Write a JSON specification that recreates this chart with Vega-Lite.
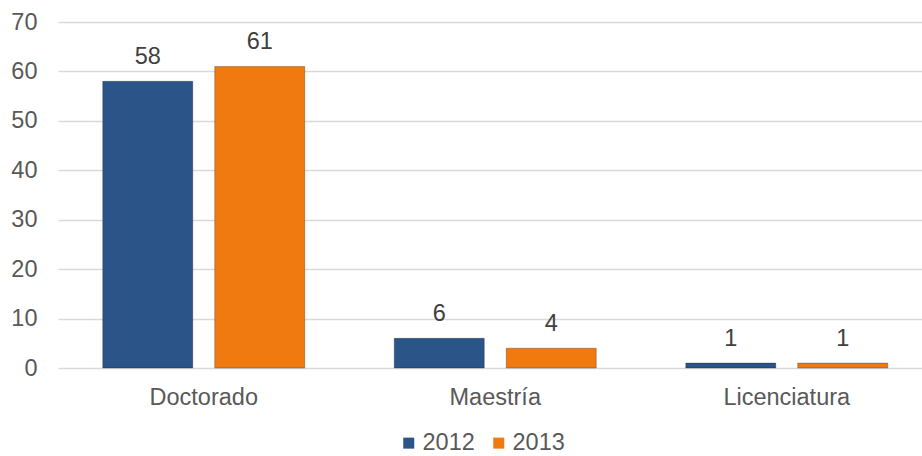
{
  "$schema": "https://vega.github.io/schema/vega-lite/v6.json",
  "width": 864,
  "height": 346,
  "autosize": {"type": "none"},
  "padding": {"left": 58, "top": 22, "right": 0, "bottom": 88},
  "background": "white",
  "config": {
    "view": {"stroke": null},
    "font": "Liberation Sans",
    "text": {"font": "Liberation Sans"}
  },
  "data": {
    "values": [
      {"nivel": "Doctorado", "year": "2012", "value": 58},
      {"nivel": "Doctorado", "year": "2013", "value": 61},
      {"nivel": "Maestría", "year": "2012", "value": 6},
      {"nivel": "Maestría", "year": "2013", "value": 4},
      {"nivel": "Licenciatura", "year": "2012", "value": 1},
      {"nivel": "Licenciatura", "year": "2013", "value": 1}
    ]
  },
  "encoding": {
    "x": {
      "field": "nivel", "type": "nominal",
      "sort": ["Doctorado", "Maestría", "Licenciatura"],
      "scale": {"range": [0, 874.5], "paddingInner": 0.307, "paddingOuter": 0.1535},
      "axis": {
        "title": null, "labelAngle": 0, "domain": false, "ticks": false,
        "labelFontSize": 23.5, "labelColor": "#595959", "labelPadding": 17,
        "labelFont": "Liberation Sans"
      }
    },
    "xOffset": {
      "field": "year", "type": "nominal",
      "scale": {"paddingInner": 0.196, "paddingOuter": 0}
    },
    "y": {
      "field": "value", "type": "quantitative",
      "scale": {"domain": [0, 70], "nice": false},
      "axis": {
        "title": null, "values": [0, 10, 20, 30, 40, 50, 60, 70],
        "domain": false, "ticks": false, "grid": true,
        "gridColor": "#d9d9d9", "gridWidth": 1.5,
        "labelFontSize": 23.5, "labelColor": "#595959", "labelPadding": 21,
        "labelFont": "Liberation Sans"
      }
    }
  },
  "layer": [
    {
      "mark": {"type": "bar", "stroke": "#000000", "strokeOpacity": 0.25, "strokeWidth": 1},
      "encoding": {
        "color": {
          "field": "year", "type": "nominal",
          "scale": {"domain": ["2012", "2013"], "range": ["#2B5489", "#F07A10"]},
          "legend": {
            "title": null, "orient": "none", "direction": "horizontal",
            "legendX": 339, "legendY": 409,
            "symbolType": "square", "symbolSize": 121, "symbolStrokeWidth": 0,
            "labelFontSize": 23.5, "labelColor": "#595959", "labelFont": "Liberation Sans",
            "labelOffset": 2, "columnPadding": 12
          }
        }
      }
    },
    {
      "mark": {"type": "text", "baseline": "alphabetic", "dy": -17, "fontSize": 23.5, "color": "#404040", "font": "Liberation Sans"},
      "encoding": {
        "text": {"field": "value", "type": "quantitative"}
      }
    }
  ]
}
